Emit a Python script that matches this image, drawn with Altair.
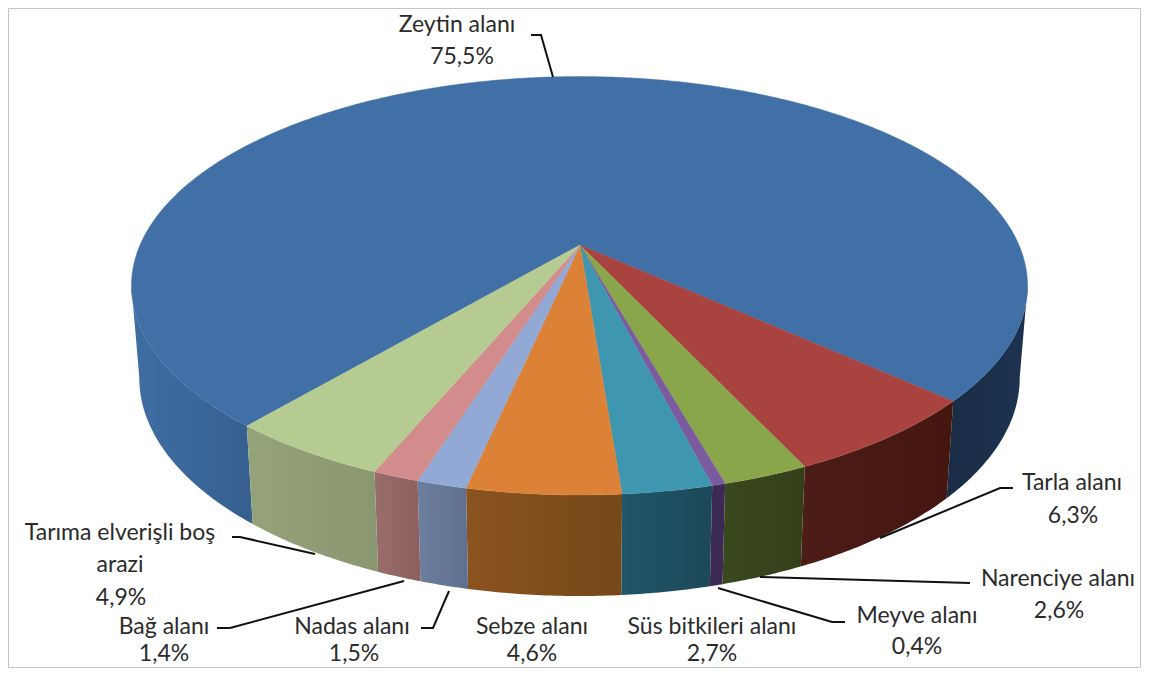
import math
import altair as alt

# ---- data ----
names = ["Zeytin alanı", "Tarla alanı", "Narenciye alanı", "Meyve alanı", "Süs bitkileri alanı",
         "Sebze alanı", "Nadas alanı", "Bağ alanı", "Tarıma elverişli boş|arazi"]
values = [75.5, 6.3, 2.6, 0.4, 2.7, 4.6, 1.5, 1.4, 4.9]
pct_labels = ["75,5%", "6,3%", "2,6%", "0,4%", "2,7%", "4,6%", "1,5%", "1,4%", "4,9%"]
top_colors = ["#4170a6", "#a84340", "#8aa64b", "#7b5ba0", "#3e96b0", "#dc8237", "#93a9d5", "#d18c8b", "#b6cb91"]
side_left = ["#3f6ea3", "#4c1d17", "#3a481d", "#3c2a55", "#20566a", "#8a5320", "#6d7f9f", "#9a6d6d", "#95a37a"]
side_right = ["#1c3350", "#44160f", "#343f1a", "#3c2a55", "#1c4858", "#754818", "#5e6f8f", "#8d6060", "#8a9670"]
blue_left_end = "#375f90"
blue_right_start = "#1c3350"
blue_right_end = "#1a2c46"

# ---- layout (page pixels) ----
OFF = 8
START = 220.2
K = 0.1923
CX = 579.5
APEX_Y = 245.0
TOP = dict(y0=245.5, a=439.7, b=201.5)
BOT = dict(y0=336.0, a=432.0, b=210.0)
SIL_L, SIL_R = 259.0, 101.0
TEXT_DY = 2.5

label_pos = [(457, 22, 462, 54), (1072, 480, 1073, 513), (1058, 576, 1059, 608), (917, 613, 917, 644),
             (712, 624, 712, 651), (532, 624, 532, 651), (352, 624, 354, 651), (164, 624, 164, 651),
             (120, 530, 121, 595)]
leaders = [
    [(531, 35), (541, 35), (553, 77)],
    [(1013, 488), (1000, 488), (880, 538)],
    [(970, 583), (760, 577)],
    [(845, 622), (832, 622), (718, 588)],
    [],
    [],
    [(421, 628), (433, 628), (449, 591)],
    [(217, 628), (230, 628), (404, 581)],
    [(232, 537), (240, 537), (315, 554)],
]


def pt(theta, g):
    t = math.radians(theta)
    u, v = math.sin(t), -math.cos(t)
    d = 1 - K * v
    return [CX + g["a"] * u / d - OFF, g["y0"] + g["b"] * v / d - OFF]


def arc(t0, t1, g, n=None):
    n = n or max(2, int(abs(t1 - t0) * 2))
    return [pt(t0 + (t1 - t0) * i / n, g) for i in range(n + 1)]


def feature(ring):
    ring = ring + [ring[0]]
    return {"type": "Feature", "properties": {}, "geometry": {"type": "Polygon", "coordinates": [ring]}}


def grad(c0, c1):
    return alt.Gradient(gradient="linear", x1=0, x2=1, y1=0, y2=0,
                        stops=[alt.GradientStop(color=c0, offset=0), alt.GradientStop(color=c1, offset=1)])


total = sum(values)
edges = [START]
for val in values:
    edges.append(edges[-1] + val / total * 360)

layers = []


def wall(t0, t1, c0, c1):
    ring = arc(t0, t1, TOP) + arc(t1, t0, BOT)
    data = alt.InlineData(values=[feature(ring)], format=alt.DataFormat(type="json"))
    layers.append(alt.Chart(data).mark_geoshape(fill=grad(c0, c1), strokeWidth=0).project(
        type="identity", scale=1, translate=[0, 0]))


# side walls
wall(SIL_L, START, side_left[0], blue_left_end)
wall(SIL_R, edges[1] - 360, blue_right_end, blue_right_start)
for i in range(1, len(values)):
    wall(edges[i + 1] - 360, edges[i] - 360, side_left[i], side_right[i])

# top surface
apex = [CX - OFF + 0.5, APEX_Y - OFF]
for i in range(len(values)):
    ring = [apex] + arc(edges[i], edges[i + 1], TOP)
    data = alt.InlineData(values=[feature(ring)], format=alt.DataFormat(type="json"))
    layers.append(alt.Chart(data).mark_geoshape(fill=top_colors[i], stroke=top_colors[i], strokeWidth=0.4).project(
        type="identity", scale=1, translate=[0, 0]))

# leader lines
rows = []
for idx, line in enumerate(leaders):
    for j, (x, y) in enumerate(line):
        rows.append({"id": idx, "o": j, "x": x - OFF, "y": y - OFF})
layers.append(alt.Chart(alt.Data(values=rows)).mark_line(color="#111111", strokeWidth=2).encode(
    x=alt.X("x:Q", scale=None), y=alt.Y("y:Q", scale=None), detail="id:N", order="o:Q"))

# labels
text_rows = []
for nm, pc, (nx, ny, px, py) in zip(names, pct_labels, label_pos):
    parts = nm.split("|")
    if len(parts) > 1:
        text_rows.append({"t": parts[0], "x": nx - OFF, "y": ny - OFF + TEXT_DY})
        text_rows.append({"t": parts[1], "x": nx - OFF, "y": 562 - OFF + TEXT_DY})
    else:
        text_rows.append({"t": nm, "x": nx - OFF, "y": ny - OFF + TEXT_DY})
    text_rows.append({"t": pc, "x": px - OFF, "y": py - OFF + TEXT_DY})
layers.append(alt.Chart(alt.Data(values=text_rows)).mark_text(
    font="Lato", fontSize=23, color="#2b2b2b", align="center", baseline="middle").encode(
    x=alt.X("x:Q", scale=None), y=alt.Y("y:Q", scale=None), text="t:N"))

# picture frame, at the edge of the drawable area
frame_rows = [
    {"id": "l", "o": 0, "x": 0.5, "y": 0.5}, {"id": "l", "o": 1, "x": 0.5, "y": 659.5},
    {"id": "b", "o": 0, "x": 0.5, "y": 659.5}, {"id": "b", "o": 1, "x": 1132.5, "y": 659.5},
    {"id": "r", "o": 0, "x": 1132.5, "y": 0.5}, {"id": "r", "o": 1, "x": 1132.5, "y": 659.5},
    {"id": "t", "o": 0, "x": 0.5, "y": 0.5}, {"id": "t", "o": 1, "x": 1132.5, "y": 0.5},
]
layers.append(alt.Chart(alt.Data(values=frame_rows)).mark_line(color="#c4c4c4", strokeWidth=1).encode(
    x=alt.X("x:Q", scale=None), y=alt.Y("y:Q", scale=None), detail="id:N", order="o:Q"))

chart = alt.layer(*layers).properties(
    width=1133, height=660, padding=0,
    autosize=alt.AutoSizeParams(type="none"),
).configure_view(stroke=None)
chart.save("out.html", embed_options={"renderer": "svg", "actions": False})
